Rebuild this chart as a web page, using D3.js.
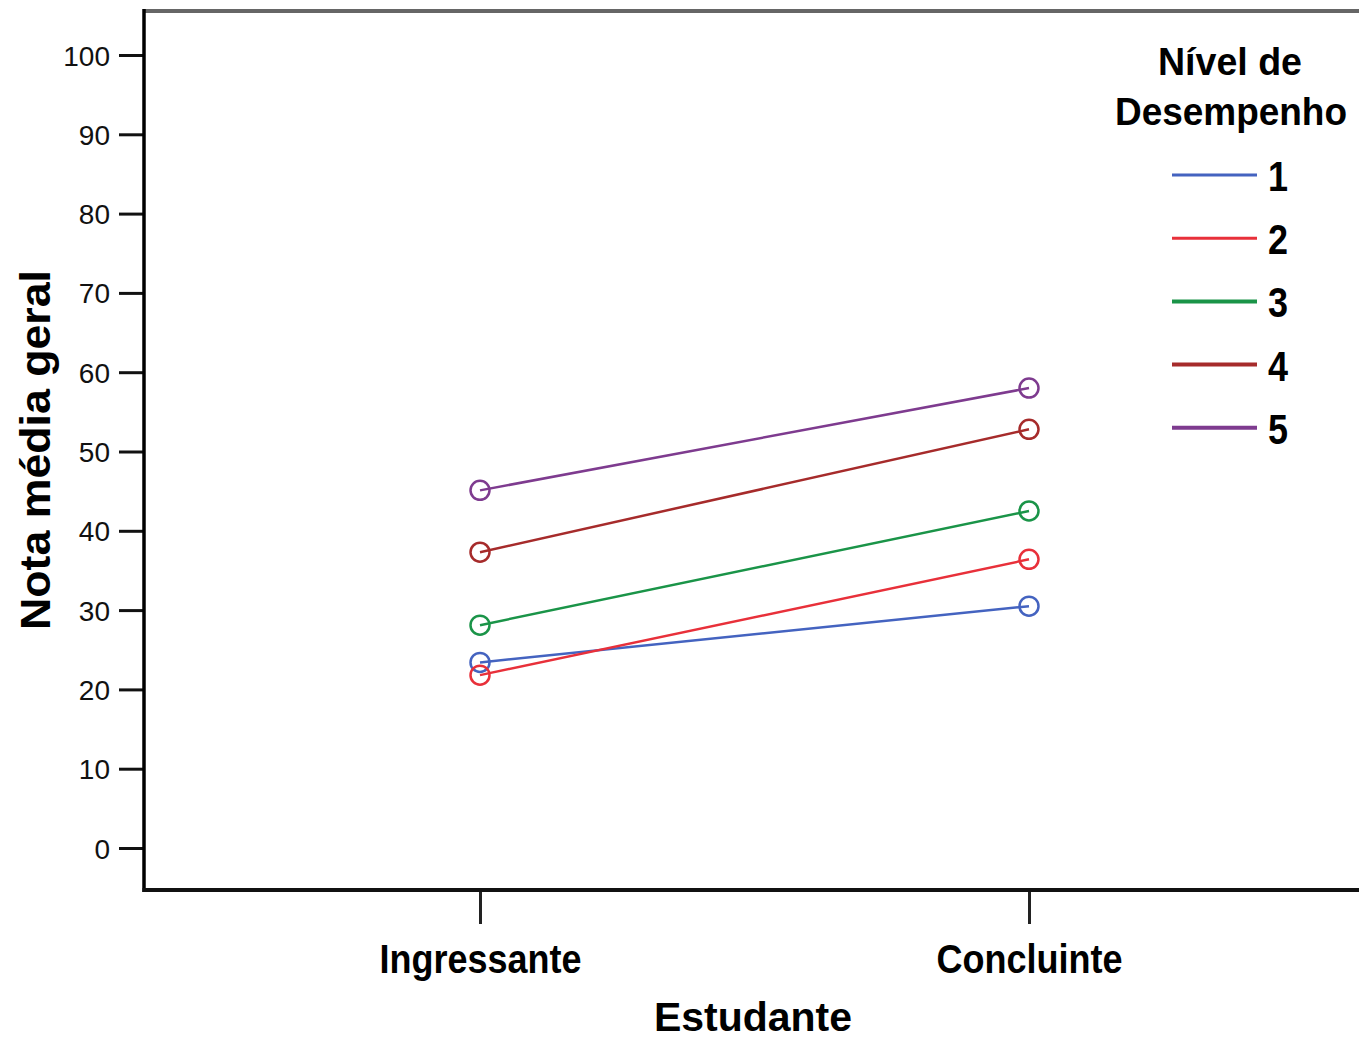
<!DOCTYPE html>
<html><head><meta charset="utf-8">
<script src="https://cdn.jsdelivr.net/npm/d3@7"></script>
<style>body{margin:0;background:#fff}svg{display:block}</style>
</head><body>
<svg id="c" width="1359" height="1040"></svg>
<script>
const categories = ["Ingressante", "Concluinte"];
const levels = ["1", "2", "3", "4", "5"];
const level1 = [23.4, 30.5];
const level2 = [21.8, 36.4];
const level3 = [28.1, 42.5];
const level4 = [37.3, 52.8];
const level5 = [45.1, 58.0];
const seriesValues = [level1, level2, level3, level4, level5];
const colors = ["#4463c0", "#e8303a", "#1a9448", "#a62b2b", "#7e3b8f"];
const yTicks = [0, 10, 20, 30, 40, 50, 60, 70, 80, 90, 100];

(function () {
const svg = d3.select("#c");
const font = "'Liberation Sans',Arial,sans-serif";
const pLeft = 144, pTop = 11, pBottom = 890, pRight = 1370;

const y = d3.scaleLinear().domain([0, 100]).range([848, 55]);
const x = d3.scalePoint().domain(categories).range([480, 1029]);

// frame
svg.append("line").attr("x1", pLeft).attr("x2", pRight).attr("y1", pTop).attr("y2", pTop)
  .attr("stroke", "#666").attr("stroke-width", 4);

// y axis
const ya = svg.append("g").attr("transform", `translate(${pLeft},0)`)
  .call(d3.axisLeft(y).tickValues(yTicks).tickSize(25).tickPadding(9));
ya.select(".domain").remove();
ya.selectAll(".tick line").attr("stroke", "#111").attr("stroke-width", 3);
ya.selectAll(".tick text").attr("font-family", font).attr("font-size", 28).attr("fill", "#111")
  .attr("dy", "0.36em");
svg.append("line").attr("x1", pLeft).attr("x2", pLeft).attr("y1", pTop - 2).attr("y2", pBottom + 2)
  .attr("stroke", "#000").attr("stroke-width", 3.5);

// x axis
const catWidths = {"Ingressante": 202, "Concluinte": 186};
const xa = svg.append("g").attr("transform", `translate(0,${pBottom})`)
  .call(d3.axisBottom(x).tickSize(34));
xa.select(".domain").remove();
xa.selectAll(".tick line").attr("stroke", "#222").attr("stroke-width", 3);
xa.selectAll(".tick text").attr("font-family", font).attr("font-size", 40)
  .attr("font-weight", "bold").attr("fill", "#000").attr("y", 83).attr("dy", 0)
  .attr("textLength", d => catWidths[d]).attr("lengthAdjust", "spacingAndGlyphs");
svg.append("line").attr("x1", pLeft - 1.5).attr("x2", pRight).attr("y1", pBottom).attr("y2", pBottom)
  .attr("stroke", "#111").attr("stroke-width", 4);

// titles
svg.append("text").attr("x", 753).attr("y", 1031).attr("text-anchor", "middle")
  .attr("font-family", font).attr("font-weight", "bold").attr("font-size", 40)
  .attr("textLength", 198).attr("lengthAdjust", "spacingAndGlyphs").text("Estudante");
svg.append("text").attr("transform", "translate(50,450) rotate(-90)").attr("text-anchor", "middle")
  .attr("font-family", font).attr("font-weight", "bold").attr("font-size", 43)
  .attr("textLength", 360).attr("lengthAdjust", "spacingAndGlyphs").text("Nota média geral");

// series
const line = d3.line().x((d, i) => x(categories[i])).y(d => y(d));
seriesValues.forEach((vals, k) => {
  svg.append("path").datum(vals).attr("d", line).attr("fill", "none")
    .attr("stroke", colors[k]).attr("stroke-width", 2.5);
  svg.selectAll(null).data(vals).enter().append("circle")
    .attr("cx", (d, i) => x(categories[i])).attr("cy", d => y(d)).attr("r", 9.5)
    .attr("fill", "none").attr("stroke", colors[k]).attr("stroke-width", 2.5);
});

// legend
svg.append("text").attr("x", 1230).attr("y", 75).attr("text-anchor", "middle")
  .attr("font-family", font).attr("font-weight", "bold").attr("font-size", 38)
  .attr("textLength", 144).attr("lengthAdjust", "spacingAndGlyphs").text("Nível de");
svg.append("text").attr("x", 1231).attr("y", 125).attr("text-anchor", "middle")
  .attr("font-family", font).attr("font-weight", "bold").attr("font-size", 38)
  .attr("textLength", 232).attr("lengthAdjust", "spacingAndGlyphs").text("Desempenho");
const lg = svg.append("g");
levels.forEach((lv, k) => {
  const ly = 175 + k * 63.2;
  lg.append("line").attr("x1", 1172).attr("x2", 1257).attr("y1", ly).attr("y2", ly)
    .attr("stroke", colors[k]).attr("stroke-width", k >= 2 ? 4 : 3);
  lg.append("text").attr("x", 1268).attr("y", ly + 16).attr("font-family", font)
    .attr("font-weight", "bold").attr("font-size", 42)
    .attr("textLength", 20).attr("lengthAdjust", "spacingAndGlyphs").text(lv);
});
})();
</script>
</body></html>
